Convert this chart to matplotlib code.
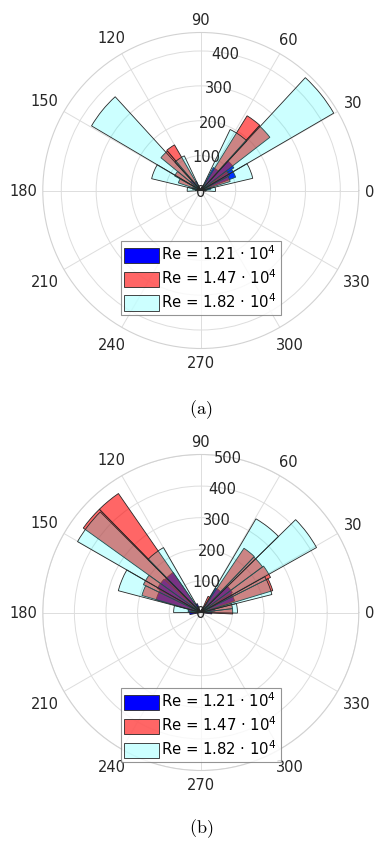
import numpy as np
import matplotlib
matplotlib.use('Agg')
import matplotlib.pyplot as plt
from matplotlib.patches import Patch

# ---------------- data (angles in degrees, counts) ----------------
series_labels = ['Re = 1.21 · 10$^{4}$', 'Re = 1.47 · 10$^{4}$', 'Re = 1.82 · 10$^{4}$']
theta_ticks = [0, 30, 60, 90, 120, 150, 180, 210, 240, 270, 300, 330]

# (a)
blue_a_edges = [-6.1, 7.4, 20.9, 34.4, 47.9, 61.4, 74.9, 88.4, 101.9, 115.4, 128.9, 142.4, 155.9, 169.4, 182.9]
blue_a_counts = [15, 29, 107, 115, 75, 10, 0, 0, 5, 29, 39, 24, 10, 10]
red_a_edges = [-3.6, 6.7, 17.0, 27.3, 37.6, 47.9, 58.2, 68.5, 78.8, 89.1, 99.4, 109.7, 120.0, 130.3, 140.6,
               150.9, 161.2, 171.5, 181.8]
red_a_counts = [15, 20, 88, 93, 250, 252, 15, 5, 0, 0, 0, 10, 151, 148, 86, 68, 24, 15]
cyan_a_edges = [-3.9, 13.2, 30.2, 47.2, 64.3, 81.3, 98.3, 115.4, 132.4, 149.4, 166.5, 183.5]
cyan_a_counts = [42, 153, 441, 194, 5, 0, 0, 110, 364, 145, 39]
r_ticks_a = [100, 200, 300, 400]
r_max_a = 453

# (b)
blue_b_edges = [-7.4, 5.8, 19.0, 32.2, 45.4, 58.6, 71.8, 85.0, 98.2, 111.4, 124.6, 137.8, 151.0, 164.2, 177.4, 190.6]
blue_b_counts = [35, 45, 113, 118, 91, 15, 0, 0, 5, 30, 154, 157, 147, 40, 35]
red_b_edges = [-2.7, 7.1, 16.9, 26.7, 36.5, 46.3, 56.1, 65.9, 75.7, 85.5, 95.3, 105.1, 114.9, 124.7, 134.5,
               144.3, 154.1, 163.9, 173.7, 183.5]
red_b_counts = [101, 101, 238, 247, 243, 245, 56, 10, 0, 0, 0, 0, 10, 458, 458, 202, 194, 40, 30]
cyan_b_edges = [-0.9, 14.2, 29.3, 44.4, 59.5, 74.6, 89.7, 104.8, 119.9, 135.0, 150.1, 165.2, 180.3]
cyan_b_counts = [116, 232, 420, 344, 5, 0, 0, 5, 237, 450, 270, 86]
r_ticks_b = [100, 200, 300, 400, 500]
r_max_b = 500

captions = ['(a)', '(b)']

# ---------------- styles ----------------
face_colors = [(0, 0, 1, 1.0), (1, 0, 0, 0.6), (0, 1, 1, 0.2)]
edge_col = (0.15, 0.15, 0.15)
grid_col = '#dddddd'
text_col = '#262626'
FS = 10.5

fig = plt.figure(figsize=(3.75, 8.48), dpi=100)
W, H = 375.0, 848.0
R = 158.0
cx = 200.8


def polar_hist(ax, edges, counts, fc, z):
    e = np.deg2rad(np.asarray(edges, dtype=float))
    c = np.asarray(counts, dtype=float)
    left = e[:-1]
    width = np.diff(e)
    m = c > 0
    ax.bar(left[m], c[m], width=width[m], align='edge', facecolor=fc,
           edgecolor=edge_col, linewidth=0.6, zorder=z)


def setup(ax, rmax, rticks):
    ax.set_theta_zero_location('E')
    ax.set_theta_direction(1)
    ax.set_xticks(np.deg2rad(theta_ticks))
    ax.set_xticklabels([])
    ax.set_rlim(0, rmax)
    ax.set_rticks(rticks)
    ax.set_yticklabels([])
    ax.grid(True, color=grid_col, linewidth=0.7)
    ax.spines['polar'].set_color('#d2d2d2')
    ax.spines['polar'].set_linewidth(0.8)
    ax.tick_params(axis='x', length=0)
    ax.set_axisbelow(True)
    # angular labels: placed just outside the circle (MATLAB-like spacing)
    digit_w = 0.636 * FS * 100 / 72.0
    box_h = 17.0
    for t in theta_ticks:
        s = str(t)
        w = digit_w * len(s) + 2
        a = np.deg2rad(t)
        dist = R + 5 + abs(np.cos(a)) * w / 2 + abs(np.sin(a)) * box_h / 2
        ax.text(0.5 + dist * np.cos(a) / (2 * R), 0.5 + dist * np.sin(a) / (2 * R), s,
                transform=ax.transAxes, ha='center', va='center_baseline', fontsize=FS,
                color=text_col, clip_on=False)
    # radial tick labels at 80 degrees, on top of the bars
    for r in [0] + list(rticks):
        ax.text(np.deg2rad(80), r, str(r), ha='center', va='center_baseline', fontsize=FS,
                color=text_col, zorder=20)


panels = [
    (190.5, (blue_a_edges, blue_a_counts, red_a_edges, red_a_counts, cyan_a_edges, cyan_a_counts),
     r_max_a, r_ticks_a, 277.8, 410),
    (612.5, (blue_b_edges, blue_b_counts, red_b_edges, red_b_counts, cyan_b_edges, cyan_b_counts),
     r_max_b, r_ticks_b, 725.0, 829),
]

for i, (cy, d, rmax, rticks, legy, capy) in enumerate(panels):
    ax = fig.add_axes([(cx - R) / W, 1 - (cy + R) / H, 2 * R / W, 2 * R / H], projection='polar')
    setup(ax, rmax, rticks)
    polar_hist(ax, d[0], d[1], face_colors[0], 2)
    polar_hist(ax, d[2], d[3], face_colors[1], 3)
    polar_hist(ax, d[4], d[5], face_colors[2], 4)
    handles = [Patch(facecolor=face_colors[k], edgecolor=edge_col, linewidth=0.6) for k in range(3)]
    leg = ax.legend(handles, series_labels, loc='center',
                    bbox_to_anchor=(cx / W, 1 - legy / H), bbox_transform=fig.transFigure,
                    fontsize=10.7, frameon=True, fancybox=False, handlelength=2.35, handleheight=1.2,
                    handletextpad=0.15, labelspacing=0.35, borderpad=0.25, borderaxespad=0)
    leg.get_frame().set_edgecolor('#7a7a7a')
    leg.get_frame().set_linewidth(0.8)
    leg.set_zorder(30)
    fig.text(cx / W, 1 - capy / H, r'$\mathrm{' + captions[i] + '}$', math_fontfamily='cm',
             fontsize=13, ha='center', va='center', color='black')

fig.savefig('out.png', dpi=100)
